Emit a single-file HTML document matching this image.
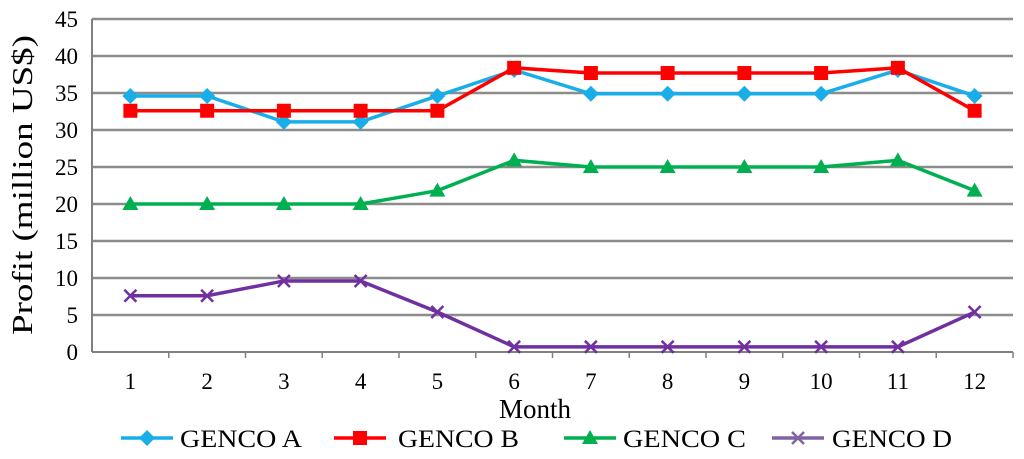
<!DOCTYPE html>
<html><head><meta charset="utf-8"><style>
html,body{margin:0;padding:0;background:#fff;}
svg{display:block;font-family:"Liberation Serif",serif;}
</style></head><body>
<svg id="chart" width="1024" height="459" viewBox="0 0 1024 459"></svg>
<script>
const months=["1","2","3","4","5","6","7","8","9","10","11","12"];
const yTicks=[0,5,10,15,20,25,30,35,40,45];
const gencoA=[34.6,34.6,31.1,31.1,34.6,38.1,34.9,34.9,34.9,34.9,38.1,34.6];
const gencoB=[32.6,32.6,32.6,32.6,32.6,38.4,37.7,37.7,37.7,37.7,38.4,32.6];
const gencoC=[20,20,20,20,21.8,25.9,25,25,25,25,25.9,21.8];
const gencoD=[7.6,7.6,9.6,9.6,5.4,0.7,0.7,0.7,0.7,0.7,0.7,5.4];
const seriesNames=["GENCO A","GENCO B","GENCO C","GENCO D"];

const NS="http://www.w3.org/2000/svg";
const svg=document.getElementById('chart');
const L=92,R=1013,T=19,B=352,YMAX=45;
const xS=i=>L+(R-L)/months.length*(i+0.5);
const yS=v=>B-(B-T)*v/YMAX;
function mk(tag,attrs,parent){const e=document.createElementNS(NS,tag);for(const k in attrs)e.setAttribute(k,attrs[k]);(parent||svg).appendChild(e);return e;}

yTicks.forEach(t=>{
  const g=mk('line',{x1:L,x2:R,y1:yS(t),y2:yS(t),stroke:t===0?'#808080':'#8c8c8c','stroke-width':t===0?2:2.5});
  
  
  const tx=mk('text',{x:78,y:yS(t)+8,'text-anchor':'end','font-size':23,fill:'#000'});
  tx.textContent=t;
  
  
});
const ya=mk('line',{x1:L,x2:L,y1:T,y2:B,stroke:'#808080','stroke-width':2});


months.forEach((m,i)=>{
  const tk=mk('line',{x1:L+(R-L)/months.length*(i+1),x2:L+(R-L)/months.length*(i+1),y1:B,y2:B+6,stroke:'#808080','stroke-width':1.5});
  
  
  const tx=mk('text',{x:xS(i),y:389,'text-anchor':'middle','font-size':23});
  tx.textContent=m;
  
  
});
const xt=mk('text',{x:535,y:418,'text-anchor':'middle','font-size':27});
xt.textContent='Month';


const yt=mk('text',{x:0,y:0,'text-anchor':'middle','font-size':28,textLength:300,lengthAdjust:'spacingAndGlyphs',transform:'translate(32,185) rotate(-90)'});
yt.textContent='Profit (million US$)';



const colors=['#1aaee8','#ff0000','#00b050','#7030a0'];
const shapes=['diamond','square','triangle','x'];
function marker(shape,x,y,c,parent){
  if(shape==='diamond')return mk('polygon',{points:`${x},${y-8} ${x+8},${y} ${x},${y+8} ${x-8},${y}`,fill:c},parent);
  if(shape==='square')return mk('rect',{x:x-7,y:y-7,width:14,height:14,fill:c},parent);
  if(shape==='triangle')return mk('polygon',{points:`${x},${y-8} ${x+8},${y+6} ${x-8},${y+6}`,fill:c},parent);
  return mk('path',{d:`M${x-6},${y-6}L${x+6},${y+6}M${x-6},${y+6}L${x+6},${y-6}`,stroke:c,'stroke-width':2.5},parent);
}
[gencoA,gencoB,gencoC,gencoD].forEach((data,si)=>{
  const g=mk('g',{});
  
  
  mk('polyline',{points:data.map((v,i)=>xS(i)+','+yS(v)).join(' '),fill:'none',stroke:colors[si],'stroke-width':3.5},g);
  data.forEach((v,i)=>{
    const m=marker(shapes[si],xS(i),yS(v),colors[si],g);
    
    
  });
});
const legX=[121,334,564,772];
const legTX=[180,398,623,832];
const legTW=[122,121,123,120];
const legColors=['#1aaee8','#ff0000','#00b050','#8064a2'];
seriesNames.forEach((n,i)=>{
  const g=mk('g',{});
  
  
  mk('line',{x1:legX[i],x2:legX[i]+52,y1:438,y2:438,stroke:legColors[i],'stroke-width':3.5},g);
  marker(shapes[i],legX[i]+26,438,legColors[i],g);
  const t=mk('text',{x:legTX[i],y:447,'font-size':25,textLength:legTW[i],lengthAdjust:'spacingAndGlyphs'},g);
  t.textContent=n;
});
</script>
</body></html>
